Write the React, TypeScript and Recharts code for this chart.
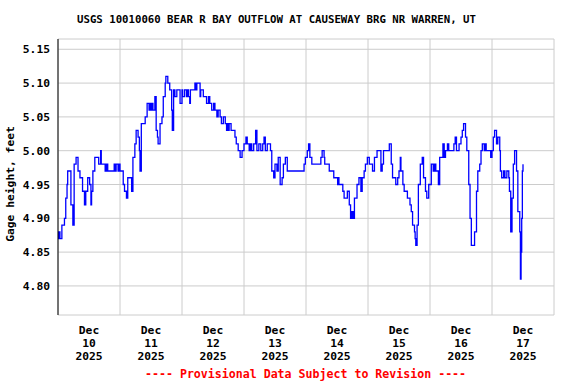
import React from 'react';
import {
  LineChart,
  Line,
  XAxis,
  YAxis,
  CartesianGrid
} from 'recharts';

// readings as [hour of day, gage height in feet], one list per day
const dec10: [number, number][] = [
  [0, 4.88], [0.25, 4.87], [0.5, 4.88], [0.75, 4.87], [1.25, 4.87], [1.5, 4.89], [2.5, 4.9],
  [3, 4.93], [3.5, 4.95], [3.75, 4.97], [4.5, 4.97], [5, 4.92], [5.75, 4.89], [6.25, 4.98],
  [7, 4.99], [7.75, 4.97], [8.5, 4.96], [9.5, 4.94], [10.25, 4.92], [10.75, 4.94], [11.5, 4.96],
  [12.25, 4.95], [12.75, 4.92], [13, 4.94], [13.5, 4.97], [14.25, 4.99], [15.25, 4.99],
  [15.75, 4.98], [16.5, 5.0], [16.75, 4.98], [17.5, 4.98], [18.25, 4.97], [18.75, 4.98],
  [19.25, 4.97], [21, 4.97], [21.75, 4.98], [22, 4.97], [22.5, 4.98], [23.25, 4.97], [23.5, 4.98]
];
const dec11: [number, number][] = [
  [0, 4.97], [0.5, 4.97], [1.25, 4.95], [1.75, 4.94], [2.5, 4.93], [3, 4.96], [3.75, 4.96],
  [4.5, 4.94], [5, 4.99], [5.75, 5.01], [6.25, 5.03], [7, 5.02], [7.5, 5.0], [7.75, 4.97],
  [8.25, 5.04], [9, 5.04], [9.75, 5.05], [10.5, 5.07], [11.25, 5.06], [11.5, 5.07], [12, 5.06],
  [12.25, 5.07], [12.75, 5.06], [13.5, 5.08], [14, 5.03], [14.5, 5.02], [14.75, 5.01],
  [15.5, 5.04], [16.25, 5.05], [16.75, 5.08], [17.5, 5.1], [17.75, 5.11], [18.5, 5.1],
  [19.25, 5.09], [20, 5.06], [20.25, 5.03], [20.75, 5.09], [21.25, 5.08], [22, 5.09],
  [22.5, 5.09], [23.25, 5.07]
];
const dec12: [number, number][] = [
  [0, 5.09], [0.25, 5.08], [0.75, 5.08], [1, 5.09], [1.5, 5.09], [1.75, 5.08], [2.25, 5.09],
  [2.5, 5.08], [3, 5.07], [3.25, 5.09], [4, 5.09], [4.5, 5.09], [5, 5.1], [5.25, 5.09],
  [5.75, 5.1], [6.5, 5.1], [7, 5.08], [7.25, 5.09], [7.75, 5.09], [8.25, 5.08], [9, 5.08],
  [9.5, 5.07], [10.25, 5.08], [10.75, 5.07], [11.5, 5.06], [12.25, 5.07], [12.75, 5.06],
  [13.5, 5.05], [14, 5.06], [14.75, 5.05], [15.25, 5.04], [16, 5.05], [16.75, 5.04],
  [17.25, 5.03], [17.5, 5.04], [17.75, 5.03], [18.25, 5.04], [19, 5.03], [19.75, 5.03],
  [20.5, 5.02], [21, 5.01], [21.75, 5.0], [22.5, 4.99], [23.25, 5.0]
];
const dec13: [number, number][] = [
  [0, 5.01], [0.75, 5.02], [1.25, 5.01], [2, 5.0], [2.5, 5.01], [3, 5.0], [3.75, 5.01],
  [4.5, 5.03], [5, 5.0], [5.75, 5.01], [6.5, 5.0], [7.25, 5.01], [7.75, 5.02], [8.25, 5.0],
  [9, 5.01], [9.5, 5.01], [10.25, 5.0], [10.75, 4.97], [11.5, 4.96], [12, 4.98], [12.75, 4.97],
  [13.25, 4.99], [14, 4.95], [14.75, 4.96], [15.25, 4.98], [16, 4.99], [16.75, 4.97],
  [17.25, 4.97], [17.75, 4.97], [22.5, 4.97], [23.25, 4.98], [23.75, 4.99]
];
const dec14: [number, number][] = [
  [0.5, 5.0], [1, 5.01], [1.5, 4.99], [2.25, 4.98], [2.5, 4.98], [3, 4.98], [5, 4.98],
  [5.75, 4.99], [6.25, 5.0], [7, 4.99], [7.25, 4.98], [7.75, 4.98], [8.5, 4.98], [9, 4.97],
  [10, 4.97], [10.75, 4.96], [12, 4.96], [12.25, 4.95], [12.5, 4.96], [12.75, 4.95],
  [13.5, 4.95], [14.25, 4.94], [14.75, 4.93], [15.25, 4.93], [16, 4.94], [16.75, 4.92],
  [17.25, 4.9], [17.75, 4.91], [18.25, 4.9], [18.75, 4.93], [19.75, 4.95], [20.5, 4.96],
  [21.25, 4.94], [21.75, 4.96], [22.5, 4.97], [23, 4.98], [23.75, 4.99]
];
const dec15: [number, number][] = [
  [0.5, 4.98], [1, 4.98], [1.75, 4.97], [2.5, 4.99], [3.5, 5.0], [4.25, 5.0], [5, 4.97],
  [5.5, 4.98], [6, 5.0], [7, 5.0], [7.75, 5.0], [8.25, 5.01], [9, 4.98], [9.5, 4.96],
  [10, 4.96], [10.75, 4.95], [11.5, 4.96], [12, 4.97], [12.5, 4.99], [12.75, 4.97],
  [13.5, 4.95], [14, 4.94], [14.75, 4.94], [15.25, 4.93], [16.25, 4.92], [16.75, 4.91],
  [17.25, 4.89], [18, 4.88], [18.25, 4.87], [18.5, 4.86], [19, 4.89], [19.5, 4.95],
  [20.25, 4.98], [21, 4.99], [21.5, 4.96], [22.25, 4.94], [22.75, 4.93], [23.5, 4.95]
];
const dec16: [number, number][] = [
  [0.5, 4.98], [1.25, 4.97], [1.75, 4.98], [2.25, 4.97], [3.25, 4.95], [3.75, 4.99],
  [4.5, 4.99], [5, 5.01], [5.5, 4.99], [6, 5.0], [6.75, 5.01], [7.25, 5.0], [7.75, 5.0],
  [8.75, 5.0], [9.25, 5.01], [9.75, 5.02], [10.25, 5.0], [11.25, 5.01], [12, 5.02],
  [12.5, 5.03], [13, 5.04], [13.75, 5.02], [14.25, 5.0], [15, 4.95], [15.5, 4.9], [16, 4.86],
  [16.75, 4.86], [17.25, 4.88], [18, 4.94], [18.5, 4.97], [19.25, 4.98], [19.75, 5.0],
  [20.25, 5.01], [21, 5.0], [21.5, 5.01], [21.75, 5.0], [23.25, 5.0], [23.5, 4.99]
];
const dec17: [number, number][] = [
  [0, 5.0], [0.5, 5.02], [1, 5.03], [1.75, 5.01], [2.25, 5.02], [3, 5.0], [3.25, 4.97],
  [3.75, 4.96], [4.5, 4.97], [5, 4.96], [5.75, 4.97], [6.5, 4.96], [6.75, 4.94], [7.25, 4.88],
  [7.75, 4.93], [8.25, 4.98], [8.75, 5.0], [9.5, 4.97], [10, 4.91], [10.75, 4.88], [11, 4.81],
  [11.25, 4.85], [11.5, 4.9], [11.75, 4.97], [12, 4.98]
];

const days = [dec10, dec11, dec12, dec13, dec14, dec15, dec16, dec17];
const dayLabels = ['10', '11', '12', '13', '14', '15', '16', '17'];
const monthLabel = 'Dec';
const yearLabel = '2025';
const noonTicks = [12, 36, 60, 84, 108, 132, 156, 180];
const midnightTicks = [24, 48, 72, 96, 120, 144, 168];
const yTicks = [4.8, 4.85, 4.9, 4.95, 5.0, 5.05, 5.1, 5.15];

const data = days.flatMap((day, d) => day.map(([h, v]) => ({ t: d * 24 + h, v })));

const FONT = '"DejaVu Sans Mono", monospace';

function DayTick(props: any) {
  const { x, y, index } = props;
  const style = { fontFamily: FONT, fontSize: 11.3, fontWeight: 'bold' as const };
  return (
    <g transform={`translate(${x},${y})`}>
      <text textAnchor="middle" fill="#000" style={style}>
        <tspan x={0} y={19}>{monthLabel}</tspan>
        <tspan x={0} y={32}>{dayLabels[index]}</tspan>
        <tspan x={0} y={44.7}>{yearLabel}</tspan>
      </text>
    </g>
  );
}

const NoTick = () => <g />;

export default function App() {
  return (
    <div style={{ position: 'absolute', left: 0, top: 0, width: 576, height: 384, background: '#fff' }}>
      <LineChart
        width={576}
        height={384}
        data={data}
        margin={{ top: 39, right: 22, left: 0, bottom: 29 }}
      >
        <CartesianGrid stroke="#cccccc" strokeWidth={1} />
        {/* day boundaries: drives the vertical grid */}
        <XAxis
          dataKey="t"
          type="number"
          domain={[0, 192]}
          ticks={midnightTicks}
          interval={0}
          tick={NoTick}
          tickLine={false}
          tickSize={0}
          height={0}
          axisLine={{ stroke: '#000', strokeWidth: 1 }}
        />
        {/* noon labels */}
        <XAxis
          xAxisId="labels"
          dataKey="t"
          type="number"
          domain={[0, 192]}
          ticks={noonTicks}
          interval={0}
          tick={<DayTick />}
          tickLine={false}
          tickSize={0}
          tickMargin={0}
          height={40}
          axisLine={false}
        />
        <XAxis
          xAxisId="top"
          orientation="top"
          type="number"
          domain={[0, 192]}
          tick={false}
          tickLine={false}
          height={0}
          axisLine={{ stroke: '#000', strokeWidth: 1 }}
        />
        <YAxis
          type="number"
          domain={[4.757, 5.1652]}
          ticks={yTicks}
          interval={0}
          width={58}
          tickLine={false}
          axisLine={{ stroke: '#000', strokeWidth: 1 }}
          tickFormatter={(v: number) => v.toFixed(2)}
          tick={{ fill: '#000', fontFamily: FONT, fontSize: 11.3, fontWeight: 'bold' }}
        />
        <YAxis
          yAxisId="right"
          orientation="right"
          type="number"
          domain={[4.757, 5.1652]}
          tick={false}
          tickLine={false}
          width={0}
          axisLine={{ stroke: '#000', strokeWidth: 1 }}
        />
        <Line
          type="stepAfter"
          dataKey="v"
          stroke="#0000ff"
          strokeWidth={1.3}
          dot={false}
          isAnimationActive={false}
        />
      </LineChart>
      <div
        style={{
          position: 'absolute', left: 0, top: 13, width: 553, textAlign: 'center',
          fontFamily: FONT, fontSize: 10.7, fontWeight: 'bold', lineHeight: '14px', whiteSpace: 'nowrap'
        }}
      >
        USGS 10010060 BEAR R BAY OUTFLOW AT CAUSEWAY BRG NR WARREN, UT
      </div>
      <div
        style={{
          position: 'absolute', left: 11, top: 184, transform: 'translate(-50%,-50%) rotate(-90deg)',
          fontFamily: FONT, fontSize: 11.3, fontWeight: 'bold', lineHeight: 1, whiteSpace: 'nowrap'
        }}
      >
        Gage height, feet
      </div>
      <div
        style={{
          position: 'absolute', left: 145, top: 367, color: '#ff0000',
          fontFamily: FONT, fontSize: 11.6, fontWeight: 'bold', lineHeight: '14px', whiteSpace: 'nowrap'
        }}
      >
        ---- Provisional Data Subject to Revision ----
      </div>
    </div>
  );
}
